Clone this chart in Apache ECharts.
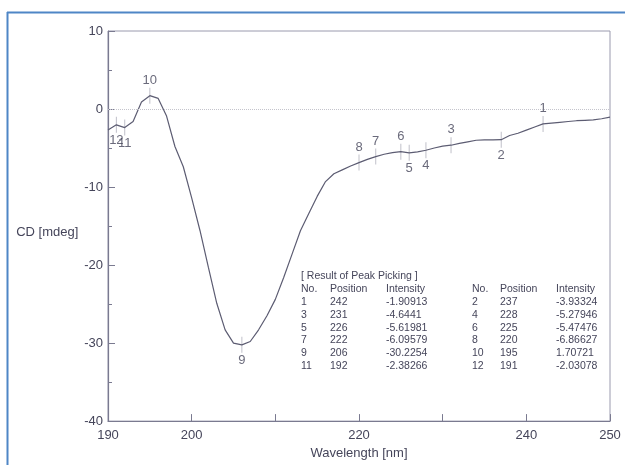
<!DOCTYPE html>
<html>
<head>
<meta charset="utf-8">
<script src="https://cdn.jsdelivr.net/npm/echarts@6/dist/echarts.min.js"></script>
<title>CD spectrum</title>
<style>
  html, body { margin: 0; padding: 0; background: #fff; }
  #main { width: 625px; height: 465px; }
</style>
</head>
<body>
<div id="main"></div>
<script type="text/javascript">
// spectrum, 1 nm steps
var wavelength = [];
for (var w = 190; w <= 250; w++) wavelength.push(w);
var cd = [
  -2.7, -2.03, -2.38, -1.6, 0.9, 1.71, 1.36, -0.9, -4.8, -7.4,
  -11.4, -15.6, -20.3, -24.9, -28.3, -30.0, -30.23, -29.8, -28.3, -26.5,
  -24.4, -21.6, -18.6, -15.6, -13.4, -11.2, -9.3, -8.3, -7.8, -7.3,
  -6.87, -6.45, -6.10, -5.8, -5.6, -5.47, -5.62, -5.5, -5.28, -5.0,
  -4.75, -4.64, -4.4, -4.2, -4.0, -3.95, -3.95, -3.93, -3.4, -3.1,
  -2.7, -2.3, -1.91, -1.8, -1.7, -1.6, -1.5, -1.45, -1.4, -1.25,
  -1.05
];

// peak picking result
var peakNo = [1, 2, 3, 4, 5, 6, 7, 8, 9, 10, 11, 12];
var peakPos = [242, 237, 231, 228, 226, 225, 222, 220, 206, 195, 192, 191];
var peakInt = ['-1.90913', '-3.93324', '-4.6441', '-5.27946', '-5.61981', '-5.47476',
               '-6.09579', '-6.86627', '-30.2254', '1.70721', '-2.38266', '-2.03078'];
var xTickLabels = [190, 200, 220, 240, 250];

var txt = '#45455a';
var labelBelow = [2, 4, 5, 9, 11, 12];

var peakData = peakNo.map(function (n, i) {
  return {
    value: [peakPos[i], parseFloat(peakInt[i])],
    name: String(n),
    label: { position: labelBelow.indexOf(n) >= 0 ? 'bottom' : 'top' }
  };
});

// table text
var tbl = [];
var fnt = '10.5px "Liberation Sans", Arial, sans-serif';
function t(x, y, s) {
  tbl.push({ type: 'text', left: x, top: y, silent: true,
    style: { text: s, font: fnt, fill: txt } });
}
t(301, 271, '[ Result of Peak Picking ]');
var cols = [301, 330, 386, 472, 500, 556];
['No.', 'Position', 'Intensity', 'No.', 'Position', 'Intensity'].forEach(function (h, k) { t(cols[k], 284, h); });
for (var r = 0; r < 6; r++) {
  for (var s = 0; s < 2; s++) {
    var i = r * 2 + s;
    t(cols[s * 3], 297 + r * 12.7, String(peakNo[i]));
    t(cols[s * 3 + 1], 297 + r * 12.7, String(peakPos[i]));
    t(cols[s * 3 + 2], 297 + r * 12.7, peakInt[i]);
  }
}

var myChart = echarts.init(document.getElementById('main'));
var option = {
  backgroundColor: '#fff',
  animation: false,
  textStyle: { fontFamily: '"Liberation Sans", Arial, sans-serif' },
  grid: { left: 108, right: 15, top: 31, bottom: 40, show: true, borderColor: '#9a9aae', borderWidth: 1 },
  xAxis: {
    type: 'value', min: 190, max: 250, interval: 10,
    name: 'Wavelength [nm]', nameLocation: 'middle', nameGap: 22,
    nameTextStyle: { color: txt, fontSize: 13 },
    axisLine: { onZero: false, lineStyle: { color: '#7a7a90', width: 1.2 } },
    axisTick: { inside: true, length: 7, lineStyle: { color: '#7a7a90' } },
    axisLabel: { color: txt, fontSize: 13, margin: 8,
      formatter: function (v) { return xTickLabels.indexOf(v) >= 0 ? String(v) : ''; } },
    splitLine: { show: false }
  },
  yAxis: {
    type: 'value', min: -40, max: 10, interval: 10,
    name: 'CD [mdeg]', nameLocation: 'middle', nameRotate: 0, nameGap: 26,
    nameTextStyle: { color: txt, fontSize: 13, verticalAlign: 'top' },
    axisLine: { onZero: false, lineStyle: { color: '#7a7a90', width: 1.2 } },
    axisTick: { inside: true, length: 7, lineStyle: { color: '#7a7a90' } },
    minorTick: { show: true, splitNumber: 2, length: 4, lineStyle: { color: '#7a7a90' } },
    axisLabel: { color: txt, fontSize: 13, margin: 5 },
    splitLine: { show: false }
  },
  graphic: [
    { type: 'line', silent: true, shape: { x1: 7, y1: 12.5, x2: 625, y2: 12.5 }, style: { stroke: '#4f86c6', lineWidth: 2 } },
    { type: 'line', silent: true, shape: { x1: 7.5, y1: 12, x2: 7.5, y2: 465 }, style: { stroke: '#4f86c6', lineWidth: 2 } }
  ].concat(tbl),
  series: [
    {
      type: 'line',
      data: wavelength.map(function (w, i) { return [w, cd[i]]; }),
      showSymbol: false,
      lineStyle: { color: '#5c5c72', width: 1.2 },
      markLine: {
        silent: true, symbol: 'none', label: { show: false },
        lineStyle: { type: 'dotted', color: '#c4c4cc', width: 1 },
        data: [{ yAxis: 0 }]
      }
    },
    {
      type: 'scatter',
      data: peakData,
      symbol: 'rect',
      symbolSize: [1, 16],
      itemStyle: { color: '#b0b0bc' },
      label: { show: true, formatter: '{b}', color: txt, fontSize: 13, distance: 1 }
    }
  ]
};
myChart.setOption(option);
</script>
</body>
</html>
